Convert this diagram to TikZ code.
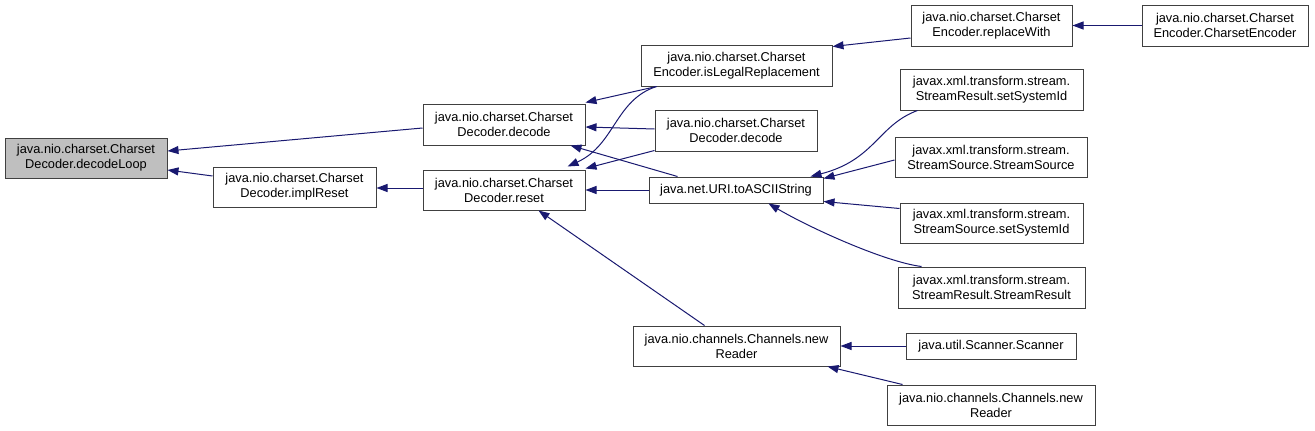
\documentclass[tikz,border=0pt]{standalone}
\usepackage{fontspec}
\setmainfont{Liberation Sans}
\usetikzlibrary{arrows.meta,calc}
\definecolor{edgeblue}{HTML}{191970}
\definecolor{boxline}{HTML}{404040}
\definecolor{hilite}{HTML}{BFBFBF}
\tikzset{
  fn/.style={draw=boxline, line width=1pt, fill=white, rectangle, inner sep=0pt,
    align=center, font=\fontsize{12.8}{15}\selectfont},
  cur/.style={fn, fill=hilite},
  call/.style={draw=edgeblue, line width=1pt, -{Triangle[length=11pt,width=8pt]}}
}
\begin{document}
\begin{tikzpicture}[x=1pt,y=-1pt]
\useasboundingbox (0,0) rectangle (1315,431);
% nodes
\node[cur, minimum width=162, minimum height=40] (loop) at (86,158) {java.nio.charset.Charset\\Decoder.decodeLoop};
\node[fn, minimum width=163, minimum height=40] (impl) at (294.5,187) {java.nio.charset.Charset\\Decoder.implReset};
\node[fn, minimum width=162, minimum height=41] (dec) at (504,124.5) {java.nio.charset.Charset\\Decoder.decode};
\node[fn, minimum width=162, minimum height=40] (reset) at (504,190) {java.nio.charset.Charset\\Decoder.reset};
\node[fn, minimum width=191, minimum height=41] (isleg) at (736.5,65.5) {java.nio.charset.Charset\\Encoder.isLegalReplacement};
\node[fn, minimum width=162, minimum height=41] (dec2) at (736,130.5) {java.nio.charset.Charset\\Decoder.decode};
\node[fn, minimum width=174, minimum height=26] (ascii) at (736,190) {java.net.URI.toASCIIString};
\node[fn, minimum width=207, minimum height=40] (nr) at (736.5,346) {java.nio.channels.Channels.new\\Reader};
\node[fn, minimum width=161, minimum height=41] (repl) at (991.5,25.5) {java.nio.charset.Charset\\Encoder.replaceWith};
\node[fn, minimum width=166, minimum height=41] (enc) at (1225,25.5) {java.nio.charset.Charset\\Encoder.CharsetEncoder};
\node[fn, minimum width=183, minimum height=41] (srsid) at (991.5,89.5) {javax.xml.transform.stream.\\StreamResult.setSystemId};
\node[fn, minimum width=192, minimum height=40] (ssss) at (991,157) {javax.xml.transform.stream.\\StreamSource.StreamSource};
\node[fn, minimum width=183, minimum height=40] (sssid) at (991.5,223) {javax.xml.transform.stream.\\StreamSource.setSystemId};
\node[fn, minimum width=187, minimum height=41] (srsr) at (991.5,287.5) {javax.xml.transform.stream.\\StreamResult.StreamResult};
\node[fn, minimum width=170, minimum height=26] (scan) at (991,346) {java.util.Scanner.Scanner};
\node[fn, minimum width=208, minimum height=40] (nr2) at (991,405) {java.nio.channels.Channels.new\\Reader};
% edges
\draw[call] ($(dec.west)+(0,3.5)$) -- ($(loop.east)+(0,-7)$);
\draw[call] ($(impl.west)+(0,-11)$) -- ($(loop.east)+(0,12)$);
\draw[call] ($(reset.west)+(0,-2)$) -- ($(impl.east)+(0,1)$);
\draw[call] ($(isleg.south west)+(16,0)$) -- ($(dec.north east)+(0,-1)$);
\draw[call] ($(isleg.south west)+(16,0)$) .. controls (615,100) and (615,145) .. ($(reset.north east)+(-18,-3)$);
\draw[call] ($(dec2.west)+(0,-1.5)$) -- ($(dec.east)+(0,2.5)$);
\draw[call] ($(dec2.south west)+(0,-1)$) -- ($(reset.north east)+(0,-1)$);
\draw[call] ($(ascii.north west)+(29,0)$) -- ($(dec.south east)+(-15,0)$);
\draw[call] (ascii.west) -- (reset.east);
\draw[call] ($(nr.north west)+(72,0)$) -- ($(reset.south east)+(-47,0)$);
\draw[call] ($(repl.west)+(0,12.5)$) -- ($(isleg.north east)+(0,2)$);
\draw[call] (enc.west) -- (repl.east);
\draw[call] ($(srsid.south west)+(18,0)$) .. controls (878,125) and (875,160) .. ($(ascii.north east)+(-13,0)$);
\draw[call] ($(ssss.west)+(0,3)$) -- ($(ascii.north east)+(0,2)$);
\draw[call] ($(sssid.north west)+(0,6)$) -- ($(ascii.south east)+(0,-2)$);
\draw[call] ($(srsr.north west)+(24,0)$) .. controls (885,262) and (810,228) .. ($(ascii.south east)+(-55,0)$);
\draw[call] (scan.west) -- (nr.east);
\draw[call] ($(nr2.north west)+(16,0)$) -- ($(nr.south east)+(-13,0)$);
\end{tikzpicture}
\end{document}
